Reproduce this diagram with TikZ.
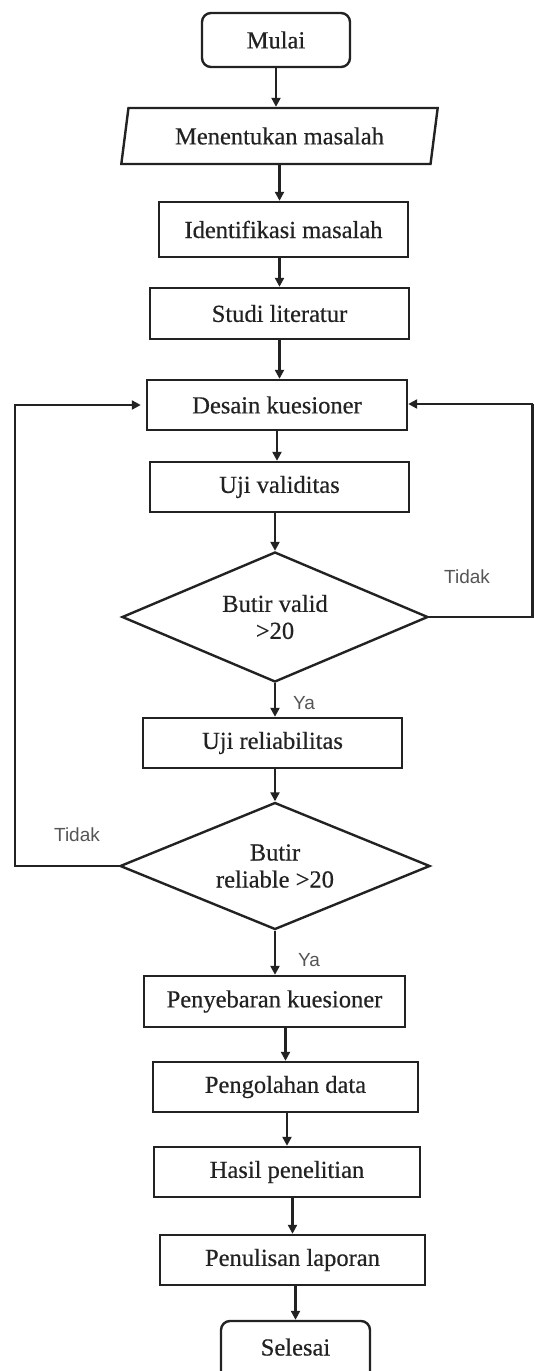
\documentclass[tikz,border=0pt]{standalone}
\usepackage{fontspec}
\setmainfont{Liberation Serif}
\newfontfamily\boxfont[FakeBold=0.5]{Liberation Serif}
\newfontfamily\labelfont{Liberation Sans}
\usetikzlibrary{shapes.geometric,arrows.meta,calc}
\definecolor{ink}{HTML}{222222}
\definecolor{lbl}{HTML}{555555}
\begin{document}
\begin{tikzpicture}[x=1pt,y=-1pt,
  base/.style={draw=ink,line width=2.4pt,text=ink,inner sep=0pt,font=\boxfont\fontsize{24.5}{27}\selectfont,align=center},
  procbox/.style={base,rectangle},
  termbox/.style={base,rectangle,rounded corners=9pt},
  iobox/.style={base,trapezium,trapezium left angle=74,trapezium right angle=106,trapezium stretches=true},
  decbox/.style={base,diamond,aspect=2.35},
  arr/.style={draw=ink,line width=2.2pt,-{Triangle[length=9pt,width=9pt]}},
  lnk/.style={draw=ink,line width=2.2pt},
  yn/.style={text=lbl,font=\labelfont\fontsize{19}{22}\selectfont,inner sep=0pt}
]
\useasboundingbox (0,0) rectangle (534,1371);

\node[termbox,minimum width=148pt,minimum height=54pt] (mul) at (276,40) {Mulai};
\node[iobox,minimum width=317pt,minimum height=56pt] (men) at (279.5,136) {Menentukan masalah};
\node[procbox,minimum width=249pt,minimum height=55pt] (ide) at (283.5,229.5) {Identifikasi masalah};
\node[procbox,minimum width=259pt,minimum height=51pt] (stu) at (279.5,313.5) {Studi literatur};
\node[procbox,minimum width=260pt,minimum height=50pt] (des) at (277,405) {Desain kuesioner};
\node[procbox,minimum width=259pt,minimum height=50pt] (val) at (279.5,487) {Uji validitas};
\node[decbox,minimum width=306pt,minimum height=130pt] (dv) at (275,617) {Butir valid\\>20};
\node[procbox,minimum width=259pt,minimum height=50pt] (rel) at (272.5,743) {Uji reliabilitas};
\node[decbox,minimum width=310pt,minimum height=127pt] (dr) at (275,866) {Butir\\reliable >20};
\node[procbox,minimum width=261pt,minimum height=51pt] (pen) at (274.5,1001.5) {Penyebaran kuesioner};
\node[procbox,minimum width=265pt,minimum height=50pt] (peng) at (285.5,1087) {Pengolahan data};
\node[procbox,minimum width=266pt,minimum height=50pt] (has) at (287,1172) {Hasil penelitian};
\node[procbox,minimum width=265pt,minimum height=50pt] (lap) at (292.5,1260) {Penulisan laporan};
\node[termbox,minimum width=149pt,minimum height=72pt,text depth=0pt] (sel) at (295.5,1357) {\raisebox{20pt}{Selesai}};

\node[yn] (t1) at (467,577) {Tidak};
\node[yn] (y1) at (304,703) {Ya};
\node[yn] (t2) at (77,835) {Tidak};
\node[yn] (y2) at (309,960) {Ya};

\coordinate (rc) at (532.5,0);
\coordinate (lc) at (15,0);

\draw[arr] (mul.south) -- (mul.south |- men.north);
\draw[arr] (men.south) -- (men.south |- ide.north);
\draw[arr] (stu.north |- ide.south) -- (stu.north);
\draw[arr] (stu.south) -- (stu.south |- des.north);
\draw[arr] (des.south) -- (des.south |- val.north);
\draw[arr] (dv.north |- val.south) -- (dv.north);
\draw[arr] (dv.south) -- (dv.south |- rel.north);
\draw[arr] (dr.north |- rel.south) -- (dr.north);
\draw[arr] (dr.south) -- (dr.south |- pen.north);
\draw[arr] (peng.north |- pen.south) -- (peng.north);
\draw[arr] (has.north |- peng.south) -- (has.north);
\draw[arr] (lap.north |- has.south) -- (lap.north);
\draw[arr] (sel.north |- lap.south) -- (sel.north);

\draw[lnk] (dv.east) -- (dv.east -| rc) -- ([yshift=1pt]rc |- des.east);
\draw[arr] ([yshift=1pt]rc |- des.east) -- ([yshift=1pt]des.east);
\draw[arr] (dr.west) -- (dr.west -| lc) -- (lc |- des.west) -- ([xshift=-5pt]des.west);
\end{tikzpicture}
\end{document}
